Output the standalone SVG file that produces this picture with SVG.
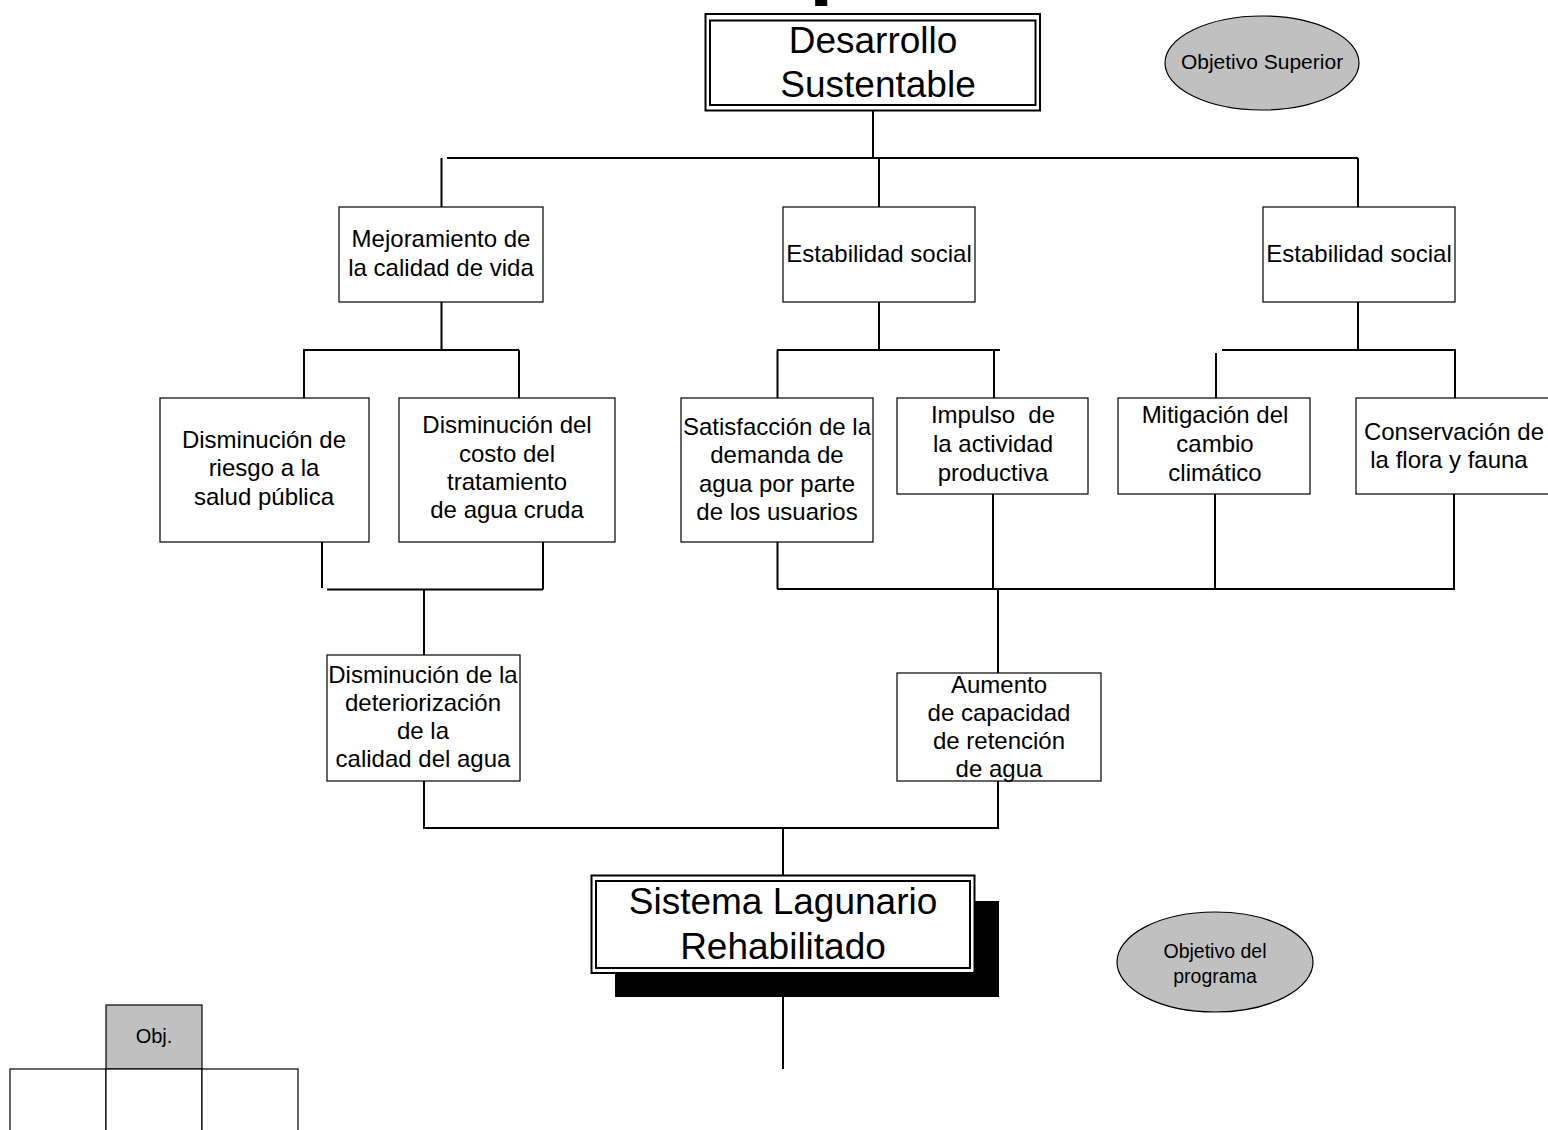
<svg xmlns="http://www.w3.org/2000/svg" width="1548" height="1130" viewBox="0 0 1548 1130">
  <style>
    .box { fill: #fff; stroke: #000; stroke-width: 1.2; }
    .frame { fill: none; stroke: #000; stroke-width: 2; }
    .ell { fill: #c0c0c0; stroke: #000; stroke-width: 1.2; }
    .shade { fill: #c0c0c0; stroke: #000; stroke-width: 1.2; }
    .conn path { fill: none; stroke: #000; stroke-width: 2; }
    text { font-family: "Liberation Sans", Arial, sans-serif; fill: #000; text-anchor: middle; }
    .t { font-size: 24px; }
    .big { font-size: 37px; }
    .small { font-size: 21px; }
  </style>

  <!-- clipped heading glyph at the top edge -->
  <text x="809" y="-12" style="font-size:88px;font-weight:bold;text-anchor:start">p</text>

  <!-- connectors -->
  <g id="connectors" class="conn">
    <path d="M873 110 V158"/>
    <path d="M447 158 H1358"/>
    <path d="M441.5 158 V207"/>
    <path d="M879 158 V207"/>
    <path d="M1358 158 V207"/>

    <path d="M441.5 302 V350"/>
    <path d="M303 350 H519"/>
    <path d="M304 350 V398"/>
    <path d="M519 350 V398"/>

    <path d="M879 302 V350"/>
    <path d="M777 350 H1000"/>
    <path d="M777.5 350 V398"/>
    <path d="M994 350 V398"/>

    <path d="M1358 302 V350"/>
    <path d="M1222 350 H1456"/>
    <path d="M1216 353 V398"/>
    <path d="M1455 350 V398"/>

    <path d="M322 542 V588"/>
    <path d="M327 589.5 H543"/>
    <path d="M543 542 V589.5"/>
    <path d="M424 589.5 V655"/>

    <path d="M777.5 542 V589"/>
    <path d="M993 494 V589"/>
    <path d="M1215 494 V589"/>
    <path d="M1454 494 V589"/>
    <path d="M777 589 H1455"/>
    <path d="M998 589 V673"/>

    <path d="M424 781 V828 H998 V781"/>
    <path d="M783 828 V875"/>
    <path d="M783 997 V1069"/>
  </g>

  <!-- top goal -->
  <g id="desarrollo">
    <rect class="box" x="705.5" y="14" width="334.5" height="96.5" style="stroke-width:2"/>
    <rect class="frame" x="710" y="20.5" width="325.5" height="84.5"/>
    <text class="big" x="873" y="53">Desarrollo</text>
    <text class="big" x="878" y="97">Sustentable</text>
  </g>

  <g id="objetivo-superior">
    <ellipse class="ell" cx="1262" cy="63" rx="97" ry="47"/>
    <text class="small" x="1262" y="69">Objetivo Superior</text>
  </g>

  <!-- first level -->
  <g id="mejoramiento">
    <rect class="box" x="339" y="207" width="204" height="95"/>
    <text class="t" x="441" y="247">Mejoramiento de</text>
    <text class="t" x="441" y="276">la calidad de vida</text>
  </g>
  <g id="estabilidad-1">
    <rect class="box" x="783" y="207" width="192" height="95"/>
    <text class="t" x="879" y="262">Estabilidad social</text>
  </g>
  <g id="estabilidad-2">
    <rect class="box" x="1263" y="207" width="192" height="95"/>
    <text class="t" x="1359" y="262">Estabilidad social</text>
  </g>

  <!-- second level -->
  <g id="riesgo-salud">
    <rect class="box" x="160" y="398" width="209" height="144"/>
    <text class="t" x="264" y="448">Disminución de</text>
    <text class="t" x="264" y="476">riesgo a la</text>
    <text class="t" x="264" y="505">salud pública</text>
  </g>
  <g id="costo-tratamiento">
    <rect class="box" x="399" y="398" width="216" height="144"/>
    <text class="t" x="507" y="433">Disminución del</text>
    <text class="t" x="507" y="462">costo del</text>
    <text class="t" x="507" y="490">tratamiento</text>
    <text class="t" x="507" y="518">de agua cruda</text>
  </g>
  <g id="demanda-agua">
    <rect class="box" x="681" y="398" width="192" height="144"/>
    <text class="t" x="777" y="435">Satisfacción de la</text>
    <text class="t" x="777" y="463">demanda de</text>
    <text class="t" x="777" y="492">agua por parte</text>
    <text class="t" x="777" y="520">de los usuarios</text>
  </g>
  <g id="actividad-productiva">
    <rect class="box" x="897" y="398" width="191" height="96"/>
    <text class="t" x="993" y="423" xml:space="preserve">Impulso  de</text>
    <text class="t" x="993" y="452">la actividad</text>
    <text class="t" x="993" y="481">productiva</text>
  </g>
  <g id="cambio-climatico">
    <rect class="box" x="1118" y="398" width="192" height="96"/>
    <text class="t" x="1215" y="423">Mitigación del</text>
    <text class="t" x="1215" y="452">cambio</text>
    <text class="t" x="1215" y="481">climático</text>
  </g>
  <g id="flora-fauna">
    <rect class="box" x="1356" y="398" width="194" height="96"/>
    <text class="t" x="1454" y="440">Conservación de</text>
    <text class="t" x="1449" y="468">la flora y fauna</text>
  </g>

  <!-- third level -->
  <g id="calidad-agua">
    <rect class="box" x="327" y="655" width="193" height="126"/>
    <text class="t" x="423" y="683">Disminución de la</text>
    <text class="t" x="423" y="711">deteriorización</text>
    <text class="t" x="423" y="739">de la</text>
    <text class="t" x="423" y="767">calidad del agua</text>
  </g>
  <g id="retencion-agua">
    <rect class="box" x="897" y="673" width="204" height="108"/>
    <text class="t" x="999" y="693">Aumento</text>
    <text class="t" x="999" y="721">de capacidad</text>
    <text class="t" x="999" y="749">de retención</text>
    <text class="t" x="999" y="777">de agua</text>
  </g>

  <!-- program goal -->
  <g id="sistema-lagunario">
    <rect x="615" y="901" width="384" height="96" fill="#000"/>
    <rect class="box" x="591.5" y="875.5" width="383" height="97.5" style="stroke-width:2"/>
    <rect class="frame" x="596" y="881" width="374" height="87"/>
    <text class="big" x="783" y="914">Sistema Lagunario</text>
    <text class="big" x="783" y="959">Rehabilitado</text>
  </g>

  <g id="objetivo-programa">
    <ellipse class="ell" cx="1215" cy="962" rx="98" ry="50"/>
    <text style="font-size:19.5px" x="1215" y="958">Objetivo del</text>
    <text style="font-size:19.5px" x="1215" y="983">programa</text>
  </g>

  <!-- legend grid -->
  <g id="leyenda">
    <rect class="shade" x="106" y="1005" width="96" height="64"/>
    <text style="font-size:20px" x="154" y="1043">Obj.</text>
    <rect class="box" x="10" y="1069" width="96" height="80"/>
    <rect class="box" x="106" y="1069" width="96" height="80"/>
    <rect class="box" x="202" y="1069" width="96" height="80"/>
  </g>
</svg>
